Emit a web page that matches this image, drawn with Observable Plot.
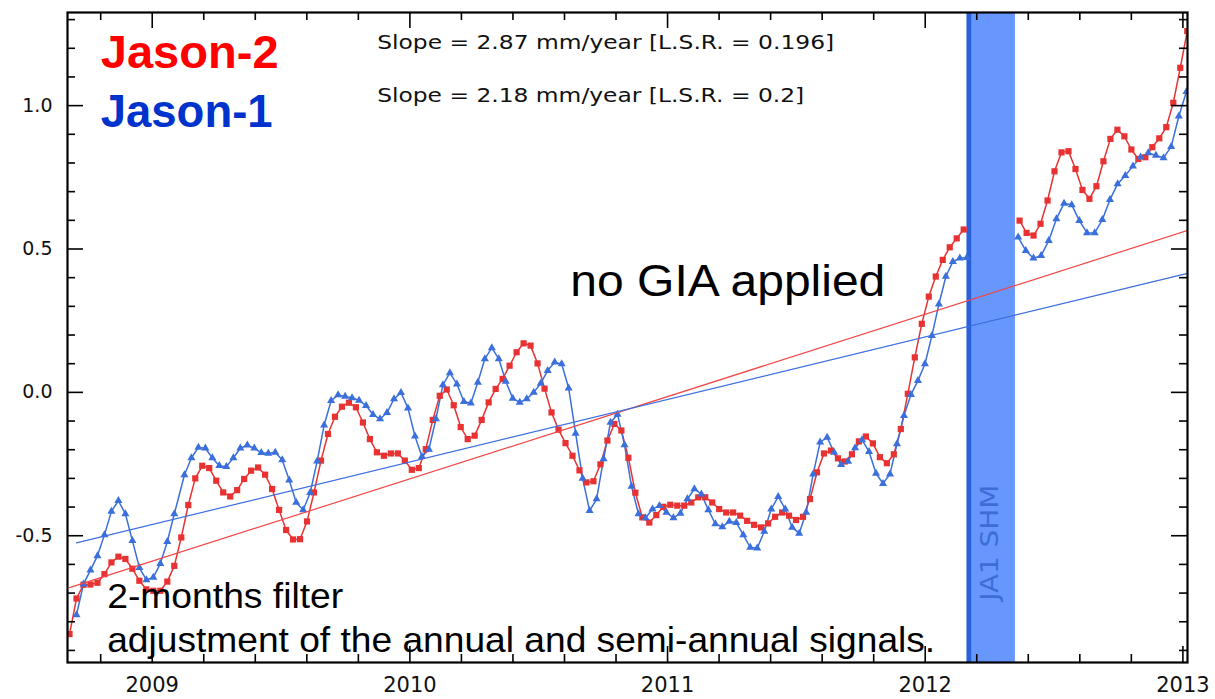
<!DOCTYPE html>
<html><head><meta charset="utf-8">
<script src="https://cdn.jsdelivr.net/npm/d3@7"></script>
<script src="https://cdn.jsdelivr.net/npm/@observablehq/plot@0.6"></script>
<style>html,body{margin:0;padding:0;background:#fff;} #chart svg{display:block}</style>
</head><body><div id="chart"></div>
<script>
// ---- Data (decimal years, sea level in cm) ----
const cycleStart = 2008.679;          // first Jason-2 cycle
const cycleStep = 0.027112;           // ~9.9 day repeat cycle, in years
const j2Values = [
 -0.843,-0.719,-0.671,-0.670,-0.664,-0.634,-0.593,-0.573,-0.581,-0.615,
 -0.657,-0.687,-0.692,-0.692,-0.660,-0.605,-0.506,-0.393,-0.300,-0.256,
 -0.264,-0.308,-0.349,-0.363,-0.341,-0.302,-0.273,-0.262,-0.287,-0.337,
 -0.410,-0.480,-0.513,-0.512,-0.450,-0.349,-0.238,-0.145,-0.085,-0.050,
 -0.036,-0.052,-0.105,-0.163,-0.209,-0.221,-0.213,-0.213,-0.238,-0.270,
 -0.264,-0.198,-0.096,-0.012,0.010,-0.045,-0.121,-0.163,-0.151,-0.096,
 -0.035,0.012,0.047,0.093,0.140,0.171,0.163,0.101,0.013,-0.070,
 -0.130,-0.177,-0.221,-0.272,-0.314,-0.310,-0.251,-0.168,-0.110,-0.133,
 -0.228,-0.350,-0.436,-0.454,-0.428,-0.399,-0.392,-0.395,-0.395,-0.384,
 -0.366,-0.366,-0.384,-0.407,-0.419,-0.419,-0.430,-0.448,-0.462,-0.471,
 -0.457,-0.434,-0.419,-0.430,-0.445,-0.434,-0.372,-0.279,-0.213,-0.203,
 -0.230,-0.241,-0.216,-0.171,-0.154,-0.178,-0.226,-0.247,-0.216,-0.128,
 -0.005,0.122,0.239,0.334,0.404,0.462,0.506,0.537,0.568,
 null,null,null,null,null,null,null,
 0.599,0.556,0.547,0.588,0.669,0.771,0.837,0.841,0.779,0.706,
 0.675,0.719,0.806,0.884,0.916,0.893,0.847,0.814,0.820,0.855,
 0.886,0.925,1.010,1.132,1.260
];
// Jason-1 tandem phase (same cycles as Jason-2, from cycle index 1)
const j1TandemFirst = 1;
const j1TandemValues = [
 -0.776,-0.669,-0.620,-0.570,-0.497,-0.415,-0.378,-0.424,-0.517,-0.611,
 -0.654,-0.645,-0.597,-0.521,-0.424
];
// Jason-1 interleaved orbit (half-cycle offset), from cycle index 16.45
const j1InterleavedFirst = 16.45;
const j1InterleavedValues = [
 -0.288,-0.229,-0.192,-0.195,-0.229,-0.256,-0.259,-0.229,-0.195,-0.184,
 -0.195,-0.210,-0.213,-0.209,-0.236,-0.306,-0.384,-0.410,-0.350,-0.240,
 -0.114,-0.029,-0.009,-0.014,-0.019,-0.028,-0.046,-0.078,-0.093,-0.071,
 -0.023,-0.001,-0.055,-0.153,-0.224,-0.199,-0.093,0.026,0.068,0.029,
 -0.032,-0.038,0.035,0.117,0.155,0.117,0.038,-0.021,-0.035,-0.023,
 0.000,0.031,0.076,0.105,0.099,0.015,-0.143,-0.300,-0.413,-0.372,
 -0.232,-0.105,-0.077,-0.183,-0.328,-0.424,-0.438,-0.407,-0.395,-0.419,
 -0.438,-0.422,-0.372,-0.337,-0.355,-0.410,-0.459,-0.469,-0.450,-0.454,
 -0.497,-0.541,-0.543,-0.485,-0.407,-0.364,-0.407,-0.471,-0.492,-0.419,
 -0.285,-0.174,-0.157,-0.209,-0.252,-0.241,-0.194,-0.166,-0.207,-0.283,
 -0.318,-0.285,-0.180,-0.081,-0.008,0.041,0.099,0.198,0.308,0.404,
 0.456,0.468,0.470
];
// Jason-1 geodetic orbit (after safe hold mode)
const j1GeodeticStart = 2012.3606;
const j1GeodeticStep = 0.0297;
const j1GeodeticValues = [
 0.541,0.494,0.468,0.477,0.529,0.605,0.659,0.654,0.599,0.556,
 0.556,0.602,0.672,0.727,0.756,0.789,0.820,0.835,0.826,0.818,
 0.857,0.963,1.049
];
// Linear trends (cm/yr) and their value at 2011.0
const trendNames = ["Jason-2", "Jason-1"];
const trendSlopes = [0.287, 0.218];
const trendAt2011 = [-0.0146, -0.0248];
const slopeTexts = ["Slope = 2.87 mm/year [L.S.R. = 0.196]", "Slope = 2.18 mm/year [L.S.R. = 0.2]"];
// Jason-1 safe hold mode period
const shmStart = 2012.162, shmEnd = 2012.35;
const xTickYears = [2009, 2010, 2011, 2012, 2013];
const yTickValues = [-0.5, 0, 0.5, 1.0];
const yTickLabels = ["-0.5", "0.0", "0.5", "1.0"];

// ---- Build tables ----
const j2 = j2Values.map((v, i) => ({t: cycleStart + i * cycleStep, v}));
const j1 = [
  ...j1TandemValues.map((v, i) => ({t: cycleStart + (j1TandemFirst + i) * cycleStep, v})),
  ...j1InterleavedValues.map((v, k) => ({t: cycleStart + (j1InterleavedFirst + k) * cycleStep, v})),
  {t: (shmStart + shmEnd) / 2, v: NaN},
  ...j1GeodeticValues.map((v, j) => ({t: j1GeodeticStart + j * j1GeodeticStep, v}))
];
const ends = [[j2[0].t, j2[j2.length - 1].t], [j1[0].t, j1[j1.length - 1].t]];
const trends = trendNames.flatMap((name, s) =>
  ends[s].map(t => ({name, t, v: trendAt2011[s] + trendSlopes[s] * (t - 2011)})));

const W = 1215, H = 699;
const mL = 67, mR = 28, mT = 12, mB = 37;
const iw = W - mL - mR, ih = H - mT - mB;
const RED = "#e83232", BLUE = "#3a6fdc";

const xMinor = d3.range(0, 22).map(i => 2008.8 + i * 0.2).filter(d => Math.abs(d - Math.round(d)) > 0.01);
const yMinor = d3.range(-9, 14).map(i => i / 10).filter(d => Math.abs(d * 2 - Math.round(d * 2)) > 0.01);
const yMajor = [-0.5, 0, 0.5, 1.0];

const tickStyle = {stroke: "black", strokeWidth: 1.6};
const chart = Plot.plot({
  width: W, height: H,
  marginLeft: mL, marginRight: mR, marginTop: mT, marginBottom: mB,
  x: {domain: [2008.6712, 2013.0179], axis: null},
  y: {domain: [-0.9421, 1.3248], axis: null},
  style: {fontFamily: "DejaVu Sans", background: "white"},
  marks: [
    // safe hold band
    Plot.rect([{x1: shmStart, x2: shmEnd}], {x1: "x1", x2: "x2", fill: "#6797fd"}),
    Plot.ruleX([shmStart], {x: d => d, stroke: "#2b5fd8", strokeWidth: 4.5, dx: 2}),
    Plot.text(["JA1 SHM"], {x: 2012.253, y: -0.5244, text: d => d, rotate: -90, fill: "#3d6cd6", fontSize: 24, fontFamily: "DejaVu Sans"}),
    // data lines
    Plot.line(j2, {x: "t", y: "v", stroke: RED, strokeWidth: 1.5, clip: true}),
    Plot.line(j1, {x: "t", y: "v", stroke: BLUE, strokeWidth: 1.5, clip: true}),
    Plot.dot(j2, {x: "t", y: "v", symbol: "square", r: 3.5, fill: RED, clip: true}),
    Plot.dot(j1, {x: "t", y: "v", symbol: "triangle", r: 3.0, fill: BLUE, clip: true}),
    // trends
    Plot.line(trends, {x: "t", y: "v", z: "name", stroke: d => d.name === "Jason-2" ? "#f24646" : "#3e6ee0", strokeWidth: 1.2, clip: true}),
    // annotations
    Plot.text(["Jason-2"], {x: 2008.80, y: 1.1295, text: d => d, textAnchor: "start", lineAnchor: "bottom", fill: "#ff0000", fontSize: 47, fontWeight: "bold", fontFamily: "Liberation Sans"}),
    Plot.text(["Jason-1"], {x: 2008.80, y: 0.927, text: d => d, textAnchor: "start", lineAnchor: "bottom", fill: "#0033cc", fontSize: 47, fontWeight: "bold", fontFamily: "Liberation Sans"}),
    Plot.text(slopeTexts, {x: 2009.873, y: (d, i) => [1.196, 1.0143][i], text: d => d, textAnchor: "start", lineAnchor: "bottom", fill: "#111", fontSize: 20, fontFamily: "DejaVu Sans"}),
    Plot.text(["no GIA applied"], {x: 2010.6227, y: 0.3374, text: d => d, textAnchor: "start", lineAnchor: "bottom", fill: "black", fontSize: 45, fontFamily: "Liberation Sans"}),
    Plot.text(["2-months filter", "adjustment of the annual and semi-annual signals."], {x: 2008.8253, y: (d, i) => [-0.7512, -0.9055][i], text: d => d, textAnchor: "start", lineAnchor: "bottom", fill: "black", fontSize: 35, fontFamily: "Liberation Sans"}),
    // ticks (inward)
    Plot.tickX(xMinor, {x: d => d, insetTop: ih - 8, ...tickStyle}),
    Plot.tickX(xTickYears, {x: d => d, insetTop: ih - 16, ...tickStyle}),
    Plot.tickX(xMinor, {x: d => d, insetBottom: ih - 8, ...tickStyle}),
    Plot.tickX(xTickYears, {x: d => d, insetBottom: ih - 16, ...tickStyle}),
    Plot.tickY(yMinor, {y: d => d, insetRight: iw - 8, ...tickStyle}),
    Plot.tickY(yMajor, {y: d => d, insetRight: iw - 16, ...tickStyle}),
    Plot.tickY(yMinor, {y: d => d, insetLeft: iw - 8, ...tickStyle}),
    Plot.tickY(yMajor, {y: d => d, insetLeft: iw - 16, ...tickStyle}),
    // tick labels
    Plot.text(xTickYears, {x: d => d, frameAnchor: "bottom", dy: 29, text: d => String(d), fontSize: 21, fill: "#111", fontFamily: "DejaVu Sans"}),
    Plot.text(yTickValues, {y: d => d, frameAnchor: "left", dx: -15, textAnchor: "end", text: (d, i) => yTickLabels[i], fontSize: 19, fill: "#111", fontFamily: "DejaVu Sans"}),
    Plot.frame({stroke: "black", strokeWidth: 2.2})
  ]
});
document.getElementById("chart").appendChild(chart);

// fit annotation widths to the reference
const widths = {
  "Jason-2": 178, "Jason-1": 172,
  "Slope = 2.87 mm/year [L.S.R. = 0.196]": 457,
  "Slope = 2.18 mm/year [L.S.R. = 0.2]": 427,
  "no GIA applied": 315,
  "2-months filter": 236,
  "adjustment of the annual and semi-annual signals.": 828,
  "JA1 SHM": 116
};
chart.querySelectorAll("text").forEach(t => {
  const w = widths[t.textContent];
  if (w) { t.setAttribute("textLength", w); t.setAttribute("lengthAdjust", "spacingAndGlyphs"); }
});
</script>
</body></html>
